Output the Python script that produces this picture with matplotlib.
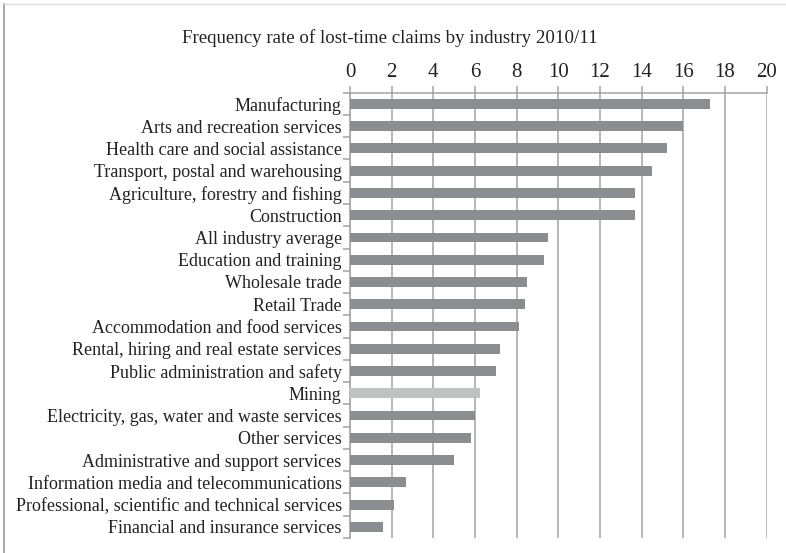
import matplotlib
matplotlib.use('Agg')
import matplotlib.pyplot as plt
from matplotlib.lines import Line2D
import numpy as np

# Lost-time claim frequency rates, 2010/11
industries = [
    'Manufacturing',
    'Arts and recreation services',
    'Health care and social assistance',
    'Transport, postal and warehousing',
    'Agriculture, forestry and fishing',
    'Construction',
    'All industry average',
    'Education and training',
    'Wholesale trade',
    'Retail Trade',
    'Accommodation and food services',
    'Rental, hiring and real estate services',
    'Public administration and safety',
    'Mining',
    'Electricity, gas, water and waste services',
    'Other services',
    'Administrative and support services',
    'Information media and telecommunications',
    'Professional, scientific and technical services',
    'Financial and insurance services',
]
rates = [17.3, 16.0, 15.2, 14.5, 13.7, 13.7, 9.5, 9.3, 8.5, 8.4, 8.1,
         7.2, 7.0, 6.25, 6.0, 5.8, 5.0, 2.7, 2.1, 1.6]
highlight = 'Mining'
xticks = list(range(0, 21, 2))

plt.rcParams['font.family'] = ['Liberation Serif', 'DejaVu Serif']

fig = plt.figure(figsize=(7.86, 5.53), dpi=100)
ax = fig.add_axes([0.4453, 0.0271, 0.5301, 0.8053])

grid_col = '#a3a3a5'
colors = ['#c0c1c3' if name == highlight else '#8c8d91' for name in industries]
y = np.arange(len(industries))
ax.barh(y, rates, height=0.44, color=colors, zorder=3)

ax.set_xlim(0, 20)
ax.set_ylim(len(industries) - 0.5, -0.5)

ax.xaxis.tick_top()
ax.set_xticks(xticks)
ax.set_xticklabels([str(t) for t in xticks], fontsize=15)
ax.tick_params(axis='x', direction='out', length=5, width=1.1, color=grid_col,
               pad=3, labelcolor='#222222')
ax.grid(axis='x', color=grid_col, linewidth=1.1, zorder=1)

ax.set_yticks(y)
ax.set_yticklabels(industries, fontsize=13.0)
ax.set_yticks(np.arange(-0.5, len(industries)), minor=True)
ax.tick_params(axis='y', which='major', length=0, pad=6, labelcolor='#222222')
ax.tick_params(axis='y', which='minor', length=5, width=1.1, color=grid_col)

for side in ['right', 'bottom']:
    ax.spines[side].set_visible(False)
for side in ['left', 'top']:
    ax.spines[side].set_color(grid_col)
    ax.spines[side].set_linewidth(1.1)

fig.text(0.496, 0.932, 'Frequency rate of lost-time claims by industry 2010/11',
         ha='center', va='center', fontsize=13.6, color='#222222')

# outer frame
fig.add_artist(Line2D([0.0055, 0.0055], [0, 0.993], transform=fig.transFigure,
                      color='#9a9a9a', linewidth=1.2))
fig.add_artist(Line2D([0.0055, 1], [0.993, 0.993], transform=fig.transFigure,
                      color='#dddddd', linewidth=1.0))

fig.savefig('out.png', dpi=100)
